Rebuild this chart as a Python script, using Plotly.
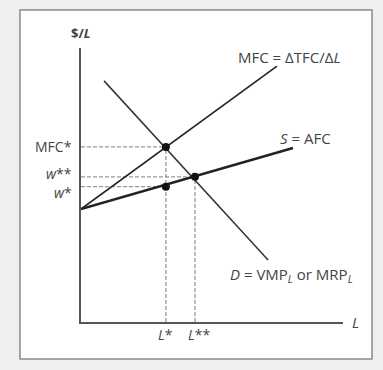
import plotly.graph_objects as go

# Labor (x) and $/L (y) in arbitrary units, origin at the axes corner
mfc_x = [0.0, 7.48]
mfc_y = [4.12, 9.34]
afc_x = [0.0, 8.09]
afc_y = [4.12, 6.35]
d_x = [0.88, 7.14]
d_y = [8.80, 2.26]

l_star = 3.24
l_2star = 4.35
mfc_star = 6.39
w_2star = 5.30
w_star = 4.94

pt_x = [l_star, l_star, l_2star]
pt_y = [mfc_star, w_star, w_2star]

FONT = "Open Sans"
TXT = "#444"
DASH = "#999"

fig = go.Figure()

# dashed guides
for x0, y0 in [(l_star, mfc_star), (l_star, w_star), (l_2star, w_2star)]:
    fig.add_trace(go.Scatter(x=[0, x0], y=[y0, y0], mode="lines",
                             line=dict(color=DASH, width=1.3, dash="4px,2px")))
for x0, y0 in [(l_star, mfc_star), (l_2star, w_2star)]:
    fig.add_trace(go.Scatter(x=[x0, x0], y=[0, y0], mode="lines",
                             line=dict(color=DASH, width=1.3, dash="4px,2px")))

fig.add_trace(go.Scatter(x=mfc_x, y=mfc_y, mode="lines",
                         line=dict(color="#222", width=1.6)))
fig.add_trace(go.Scatter(x=afc_x, y=afc_y, mode="lines",
                         line=dict(color="#222", width=2.6)))
fig.add_trace(go.Scatter(x=d_x, y=d_y, mode="lines",
                         line=dict(color="#333", width=1.5)))
fig.add_trace(go.Scatter(x=pt_x, y=pt_y, mode="markers",
                         marker=dict(color="#111", size=8)))

ann = [
    dict(x=0, y=10, yshift=15, text="<b>$/<i>L</i></b>", xanchor="center",
         yanchor="middle", font=dict(size=13)),
    dict(x=10, y=0, xshift=7, text="<i>L</i>", xanchor="left", yanchor="middle",
         font=dict(size=15)),
    dict(x=l_star, y=0, yshift=-12, text="<i>L</i>*", xanchor="center", yanchor="middle"),
    dict(x=l_2star, y=0, xshift=4, yshift=-12, text="<i>L</i>**", xanchor="center",
         yanchor="middle"),
    dict(x=0, y=mfc_star, xshift=-7, text="MFC*", xanchor="right", yanchor="middle"),
    dict(x=0, y=w_2star, xshift=-7, yshift=3, text="<i>w</i>**", xanchor="right",
         yanchor="middle"),
    dict(x=0, y=w_star, xshift=-7, yshift=-6, text="<i>w</i>*", xanchor="right",
         yanchor="middle"),
    dict(x=7.96, y=9.67, text="MFC = ΔTFC/Δ<i>L</i>", xanchor="center",
         yanchor="middle", font=dict(size=15)),
    dict(x=8.55, y=6.72, text="<i>S</i> = AFC", xanchor="center", yanchor="middle",
         font=dict(size=15)),
    dict(x=8.05, y=1.72, text="<i>D</i> = VMP<sub><i>L</i></sub> or MRP<sub><i>L</i></sub>",
         xanchor="center", yanchor="middle", font=dict(size=15)),
]
for a in ann:
    a.setdefault("font", dict(size=14))
    a["font"].update(family=FONT, color=TXT)
    fig.add_annotation(showarrow=False, xref="x", yref="y", **a)

# outer framed box
fig.add_shape(type="rect", xref="paper", yref="paper",
              x0=-61 / 262, x1=291 / 262, y0=-37 / 274, y1=312 / 274,
              fillcolor="white", line=dict(color="#8a8a8a", width=1.5),
              layer="below")

fig.update_layout(
    width=383, height=370,
    margin=dict(l=81, r=40, t=48, b=48),
    paper_bgcolor="#efefef", plot_bgcolor="rgba(0,0,0,0)",
    showlegend=False,
)
fig.update_xaxes(range=[0, 10], showgrid=False, zeroline=False, showticklabels=False,
                 ticks="", showline=True, linecolor="#555", linewidth=1.5)
fig.update_yaxes(range=[0, 10], showgrid=False, zeroline=False, showticklabels=False,
                 ticks="", showline=True, linecolor="#555", linewidth=1.5)

fig.write_html("out.html", config={"displayModeBar": False},
               post_script="document.body.style.margin='0';"
                           "document.body.style.background='#efefef';")
